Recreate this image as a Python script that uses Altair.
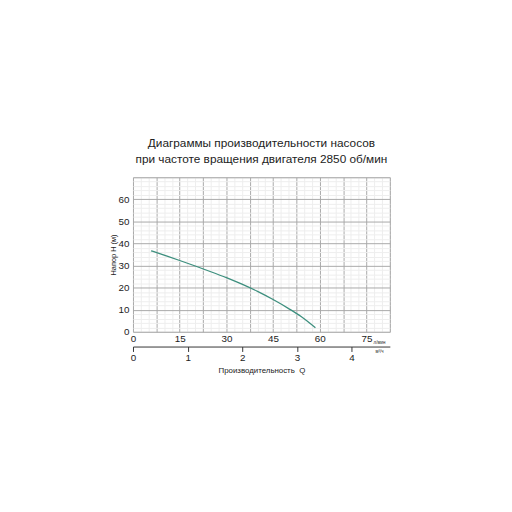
import altair as alt
import pandas as pd

title_lines = ["Диаграммы производительности насосов",
               "при частоте вращения двигателя 2850 об/мин"]

# pump curve: Q in l/min, H in m
q_lmin = [5.8, 10, 15, 20, 25, 30, 35, 40, 45, 50, 54, 58.6]
head_m = [36.7, 34.7, 32.3, 29.8, 27.2, 24.5, 21.6, 18.3, 14.6, 10.5, 6.9, 1.8]

# grid / tick positions
x_grid = [i * 2.5 for i in range(34)]      # 0 .. 82.5 l/min
y_grid = [i * 2 for i in range(36)]        # 0 .. 70 m
m3h_ticks = [0, 1, 2, 3, 4]

FONT = "Liberation Sans"
MAJOR = "#a8a8a8"
MINOR = "#eeeeee"

curve = alt.Chart(pd.DataFrame({"Q": q_lmin, "H": head_m})).mark_line(
    color="#3d8f7e", strokeWidth=1.3, interpolate="monotone"
).encode(
    x=alt.X("Q:Q",
            scale=alt.Scale(domain=[0, 82.5], nice=False, zero=False),
            axis=alt.Axis(orient="bottom", values=x_grid,
                          labelExpr="datum.value % 15 == 0 && datum.value < 80 ? datum.label : ''",
                          ticks=False, domain=False, grid=True,
                          gridColor={"condition": {"test": "datum.value % 7.5 == 0", "value": MAJOR}, "value": MINOR},
                          labelFontSize=10, labelPadding=2, labelColor="#222",
                          labelOverlap=False, labelFlush=False,
                          title="л/мин", titleFontSize=4.5, titleX=244, titleY=11,
                          titleAlign="left", titleBaseline="middle",
                          titleFontWeight="normal", titleColor="#222")),
    y=alt.Y("H:Q",
            scale=alt.Scale(domain=[0, 70], nice=False),
            axis=alt.Axis(values=y_grid,
                          labelExpr="datum.value % 10 == 0 && datum.value < 70 ? datum.label : ''",
                          ticks=False, domain=False, grid=True,
                          gridColor={"condition": {"test": "datum.value % 10 == 0", "value": MAJOR}, "value": MINOR},
                          labelFontSize=10, labelPadding=4, labelColor="#222",
                          labelOverlap=False, labelFlush=False,
                          title="Напор H (м)", titleFontSize=7.5, titlePadding=1,
                          titleFontWeight="normal", titleColor="#222")),
)

sec = alt.Chart(pd.DataFrame({"m3h": [0]})).mark_point(opacity=0).encode(
    x=alt.X("m3h:Q",
            scale=alt.Scale(domain=[0, 4.7], nice=False, zero=False),
            axis=alt.Axis(orient="bottom", offset=15, values=m3h_ticks, grid=False,
                          domainColor="#333", tickColor="#333", tickSize=5,
                          labelFontSize=10, labelPadding=1, labelColor="#222",
                          labelFlush=False,
                          title="м³/ч", titleFontSize=4.5, titleX=246, titleY=5,
                          titleAlign="left", titleBaseline="middle",
                          titleFontWeight="normal", titleColor="#222"))
)

qtitle = alt.Chart(pd.DataFrame({"q": [0]})).mark_point(opacity=0).encode(
    x=alt.X("q:Q",
            scale=alt.Scale(domain=[0, 1], nice=False, zero=False),
            axis=alt.Axis(orient="bottom", offset=15, labels=False, ticks=False,
                          domain=False, grid=False,
                          title="Производительность\u00a0\u00a0Q", titleFontSize=8,
                          titleY=26, titleBaseline="alphabetic",
                          titleFontWeight="normal", titleColor="#222"))
)

chart = alt.layer(curve, sec, qtitle).resolve_scale(x="independent").properties(
    width=261, height=157,
    autosize=alt.AutoSizeParams(type="none"),
    padding={"left": 127, "top": 168, "right": 116, "bottom": 171},
    title=alt.TitleParams(title_lines, fontSize=12, font=FONT, fontWeight="normal",
                          color="#222", anchor="middle", offset=6, lineHeight=17),
).configure_axis(
    labelFont=FONT, titleFont=FONT
).configure_view(
    stroke="#777", strokeWidth=1
).configure(background="white")

chart.save("out.html", embed_options={"renderer": "svg", "actions": False})
